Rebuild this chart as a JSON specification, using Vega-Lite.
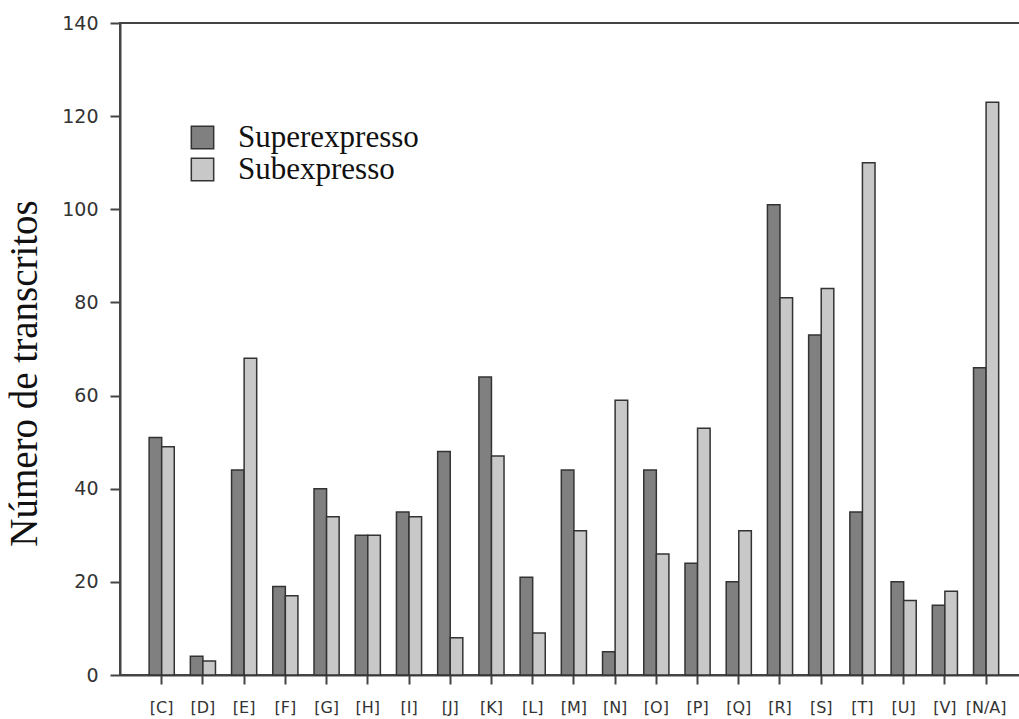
{
  "$schema": "https://vega.github.io/schema/vega-lite/v6.json",
  "autosize": {"type": "none"},
  "padding": {"left": 120, "top": 23, "right": 0, "bottom": 44},
  "width": 901,
  "height": 652,
  "background": "white",
  "config": {
    "view": {"stroke": "#444", "strokeWidth": 2},
    "axis": {"grid": false}
  },
  "data": {
    "values": [
      {"cat": "[C]", "grupo": "Superexpresso", "n": 51}, {"cat": "[C]", "grupo": "Subexpresso", "n": 49},
      {"cat": "[D]", "grupo": "Superexpresso", "n": 4}, {"cat": "[D]", "grupo": "Subexpresso", "n": 3},
      {"cat": "[E]", "grupo": "Superexpresso", "n": 44}, {"cat": "[E]", "grupo": "Subexpresso", "n": 68},
      {"cat": "[F]", "grupo": "Superexpresso", "n": 19}, {"cat": "[F]", "grupo": "Subexpresso", "n": 17},
      {"cat": "[G]", "grupo": "Superexpresso", "n": 40}, {"cat": "[G]", "grupo": "Subexpresso", "n": 34},
      {"cat": "[H]", "grupo": "Superexpresso", "n": 30}, {"cat": "[H]", "grupo": "Subexpresso", "n": 30},
      {"cat": "[I]", "grupo": "Superexpresso", "n": 35}, {"cat": "[I]", "grupo": "Subexpresso", "n": 34},
      {"cat": "[J]", "grupo": "Superexpresso", "n": 48}, {"cat": "[J]", "grupo": "Subexpresso", "n": 8},
      {"cat": "[K]", "grupo": "Superexpresso", "n": 64}, {"cat": "[K]", "grupo": "Subexpresso", "n": 47},
      {"cat": "[L]", "grupo": "Superexpresso", "n": 21}, {"cat": "[L]", "grupo": "Subexpresso", "n": 9},
      {"cat": "[M]", "grupo": "Superexpresso", "n": 44}, {"cat": "[M]", "grupo": "Subexpresso", "n": 31},
      {"cat": "[N]", "grupo": "Superexpresso", "n": 5}, {"cat": "[N]", "grupo": "Subexpresso", "n": 59},
      {"cat": "[O]", "grupo": "Superexpresso", "n": 44}, {"cat": "[O]", "grupo": "Subexpresso", "n": 26},
      {"cat": "[P]", "grupo": "Superexpresso", "n": 24}, {"cat": "[P]", "grupo": "Subexpresso", "n": 53},
      {"cat": "[Q]", "grupo": "Superexpresso", "n": 20}, {"cat": "[Q]", "grupo": "Subexpresso", "n": 31},
      {"cat": "[R]", "grupo": "Superexpresso", "n": 101}, {"cat": "[R]", "grupo": "Subexpresso", "n": 81},
      {"cat": "[S]", "grupo": "Superexpresso", "n": 73}, {"cat": "[S]", "grupo": "Subexpresso", "n": 83},
      {"cat": "[T]", "grupo": "Superexpresso", "n": 35}, {"cat": "[T]", "grupo": "Subexpresso", "n": 110},
      {"cat": "[U]", "grupo": "Superexpresso", "n": 20}, {"cat": "[U]", "grupo": "Subexpresso", "n": 16},
      {"cat": "[V]", "grupo": "Superexpresso", "n": 15}, {"cat": "[V]", "grupo": "Subexpresso", "n": 18},
      {"cat": "[N/A]", "grupo": "Superexpresso", "n": 66}, {"cat": "[N/A]", "grupo": "Subexpresso", "n": 123}
    ]
  },
  "mark": {"type": "bar", "stroke": "#333", "strokeWidth": 1.5},
  "encoding": {
    "x": {
      "field": "cat", "type": "nominal", "sort": null,
      "scale": {"paddingInner": 0.39, "paddingOuter": 0.624, "align": 0.566},
      "axis": {
        "title": null, "labelAngle": 0, "bandPosition": 0.5,
        "domainColor": "#444", "domainWidth": 2,
        "tickColor": "#444", "tickWidth": 2, "tickSize": 9,
        "labelFont": "DejaVu Sans", "labelFontSize": 16, "labelColor": "#333",
        "labelPadding": 15
      }
    },
    "xOffset": {
      "field": "grupo", "type": "nominal",
      "scale": {"domain": ["Superexpresso", "Subexpresso"], "paddingInner": 0, "paddingOuter": 0}
    },
    "y": {
      "field": "n", "type": "quantitative",
      "scale": {"domain": [0, 140], "nice": false},
      "axis": {
        "title": "Número de transcritos",
        "values": [0, 20, 40, 60, 80, 100, 120, 140],
        "domainColor": "#444", "domainWidth": 2,
        "tickColor": "#444", "tickWidth": 2, "tickSize": 10,
        "labelFont": "DejaVu Sans", "labelFontSize": 19, "labelColor": "#333",
        "labelPadding": 12,
        "titleFont": "Liberation Serif", "titleFontSize": 39, "titleFontWeight": "normal",
        "titleColor": "#111", "titleX": -96, "titleY": 350, "titleAngle": 270,
        "titleAlign": "center", "titleBaseline": "middle"
      }
    },
    "color": {
      "field": "grupo", "type": "nominal",
      "scale": {"domain": ["Superexpresso", "Subexpresso"], "range": ["#808080", "#c8c8c8"]},
      "legend": {
        "title": null, "orient": "none", "legendX": 67, "legendY": 99,
        "symbolType": "square", "symbolSize": 500, "symbolStrokeColor": "#333",
        "symbolStrokeWidth": 1.5, "symbolOpacity": 1,
        "labelFont": "Liberation Serif", "labelFontSize": 31, "labelColor": "#111",
        "labelLimit": 0, "labelOffset": 20, "rowPadding": 0
      }
    }
  }
}
